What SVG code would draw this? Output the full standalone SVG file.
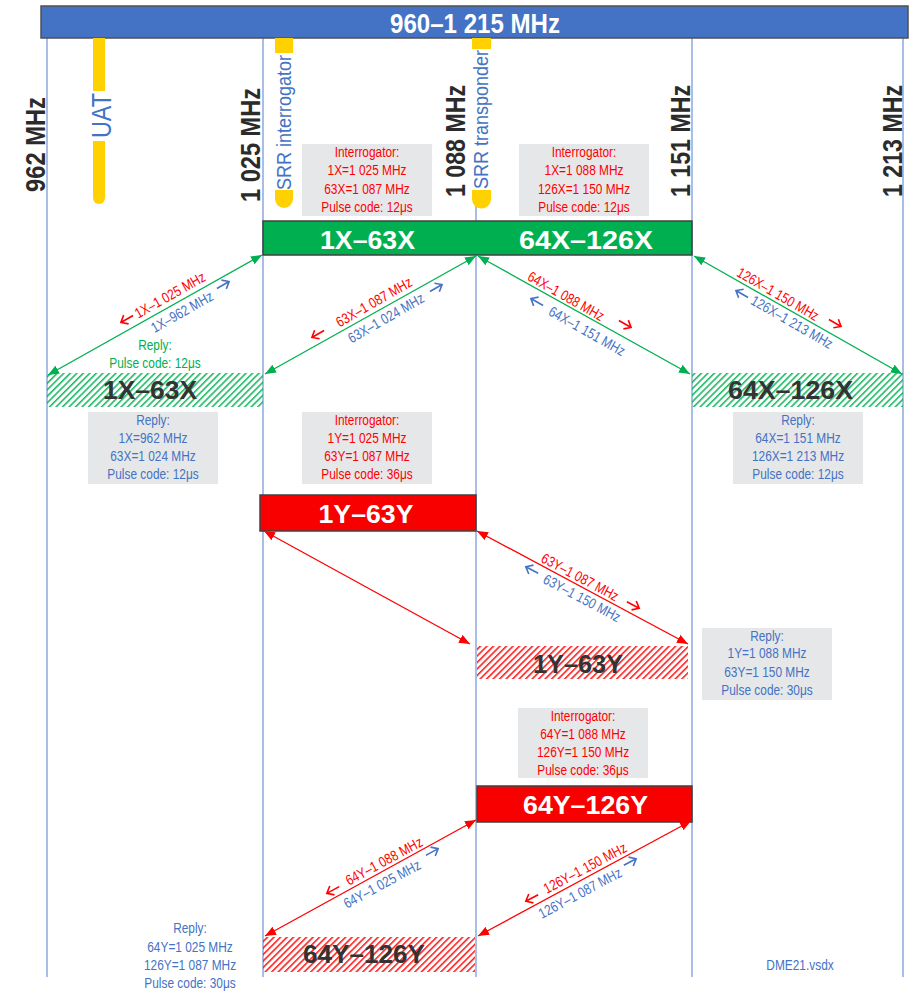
<svg xmlns="http://www.w3.org/2000/svg" width="910" height="994" viewBox="0 0 910 994">
<style>
text{font-family:"Liberation Sans",Arial,sans-serif}
.vl{stroke:#86A3DA;stroke-width:1.4;fill:none}
.gray{fill:#E6E7E8}
.s{font-size:14.5px;text-anchor:middle}
.d{font-size:14.5px;text-anchor:middle}
.red{fill:#FF0000}
.blue{fill:#4472C4}
.grn{fill:#00B050}
.freq{font-size:28px;font-weight:bold;fill:#2B2B2B}
.bar{font-size:25px;font-weight:bold;fill:#FFFFFF;text-anchor:middle}
.hl{font-size:25px;font-weight:bold;fill:#333333;text-anchor:middle}
.yel{fill:#FFD100}
.gl{stroke:#00B050;stroke-width:1.3;fill:none}
.rl{stroke:#FF0000;stroke-width:1.3;fill:none}
.ra{stroke:#FF0000;stroke-width:1.6;fill:none}
.ba{stroke:#4472C4;stroke-width:1.6;fill:none}
</style>
<defs>
<marker id="mg" viewBox="0 0 11 9" refX="11" refY="4.5" markerWidth="11" markerHeight="9" markerUnits="userSpaceOnUse" orient="auto-start-reverse"><path d="M0,0 L11,4.5 L0,9 z" fill="#00B050"/></marker>
<marker id="mr" viewBox="0 0 11 9" refX="11" refY="4.5" markerWidth="11" markerHeight="9" markerUnits="userSpaceOnUse" orient="auto-start-reverse"><path d="M0,0 L11,4.5 L0,9 z" fill="#FF0000"/></marker>
<pattern id="hg" patternUnits="userSpaceOnUse" width="4.6" height="4.6" patternTransform="rotate(45)"><line x1="0.8" y1="0" x2="0.8" y2="4.6" stroke="#00B050" stroke-width="1.4"/></pattern>
<pattern id="hr" patternUnits="userSpaceOnUse" width="4.6" height="4.6" patternTransform="rotate(45)"><line x1="0.8" y1="0" x2="0.8" y2="4.6" stroke="#FF0000" stroke-width="1.4"/></pattern>
</defs>

<g id="grid">
<line class="vl" x1="47" y1="38" x2="47" y2="977"/>
<line class="vl" x1="263" y1="38" x2="263" y2="977"/>
<line class="vl" x1="476" y1="38" x2="476" y2="977"/>
<line class="vl" x1="692" y1="38" x2="692" y2="977"/>
<line class="vl" x1="903" y1="38" x2="903" y2="977"/>
</g>

<g id="band">
<rect x="41" y="6" width="867" height="32" fill="#4472C4" stroke="#505050" stroke-width="1.5"/>
<text x="475" y="33" font-size="28" font-weight="bold" fill="#FFFFFF" text-anchor="middle" textLength="170" lengthAdjust="spacingAndGlyphs">960–1 215 MHz</text>
</g>

<g id="freq-labels" class="freq">
<text transform="translate(45,192) rotate(-90)" textLength="95" lengthAdjust="spacingAndGlyphs">962 MHz</text>
<text transform="translate(260,202) rotate(-90)" textLength="114" lengthAdjust="spacingAndGlyphs">1 025 MHz</text>
<text transform="translate(465,197) rotate(-90)" textLength="112" lengthAdjust="spacingAndGlyphs">1 088 MHz</text>
<text transform="translate(690,197) rotate(-90)" textLength="112" lengthAdjust="spacingAndGlyphs">1 151 MHz</text>
<text transform="translate(902,197) rotate(-90)" textLength="112" lengthAdjust="spacingAndGlyphs">1 213 MHz</text>
</g>

<g id="uat">
<path class="yel" d="M93,38 H105 V198 A6,6 0 0 1 93,198 Z"/>
<rect x="89" y="91" width="23" height="50" fill="#FFFFFF"/>
<text transform="translate(111,138) rotate(-90)" font-size="28" fill="#4472C4" textLength="45" lengthAdjust="spacingAndGlyphs">UAT</text>
</g>

<g id="srr-interrogator">
<path class="yel" d="M275,38 H293 V199 A9,9 0 0 1 275,199 Z"/>
<rect x="273" y="53" width="22" height="137" fill="#FFFFFF"/>
<text transform="translate(291,190) rotate(-90)" font-size="21" fill="#4472C4" textLength="135" lengthAdjust="spacingAndGlyphs">SRR interrogator</text>
</g>

<g id="srr-transponder">
<path class="yel" d="M472,38 H491 V199 A9.5,9.5 0 0 1 472,199 Z"/>
<rect x="470" y="49" width="23" height="141" fill="#FFFFFF"/>
<text transform="translate(488,189) rotate(-90)" font-size="21" fill="#4472C4" textLength="139" lengthAdjust="spacingAndGlyphs">SRR transponder</text>
</g>

<g id="box-int-x1" transform="translate(302,144)">
<rect class="gray" width="130" height="72"/>
<g transform="translate(65,0) scale(0.82,1)" class="s red">
<text y="13">Interrogator:</text><text y="31.3">1X=1 025 MHz</text><text y="49.6">63X=1 087 MHz</text><text y="67.9">Pulse code: 12μs</text>
</g>
</g>

<g id="box-int-x2" transform="translate(519,144)">
<rect class="gray" width="130" height="72"/>
<g transform="translate(65,0) scale(0.82,1)" class="s red">
<text y="13">Interrogator:</text><text y="31.3">1X=1 088 MHz</text><text y="49.6">126X=1 150 MHz</text><text y="67.9">Pulse code: 12μs</text>
</g>
</g>

<g id="bar-x">
<rect x="263" y="221" width="429" height="34" fill="#00B050" stroke="#404040" stroke-width="1.5"/>
<text class="bar" x="367.5" y="249" font-size="24" textLength="95" lengthAdjust="spacingAndGlyphs">1X–63X</text>
<text class="bar" x="586" y="249" font-size="24" textLength="134" lengthAdjust="spacingAndGlyphs">64X–126X</text>
</g>

<g id="reply-green">
<g transform="translate(155,0) scale(0.82,1)" class="s grn">
<text y="350">Reply:</text><text y="368">Pulse code: 12μs</text>
</g>
</g>

<g id="hatch-x1">
<rect x="47" y="373" width="216" height="34" fill="url(#hg)"/>
<text class="hl" x="150" y="399" textLength="94" lengthAdjust="spacingAndGlyphs">1X–63X</text>
</g>

<g id="hatch-x2">
<rect x="692" y="373" width="211" height="34" fill="url(#hg)"/>
<text class="hl" x="790.5" y="399" textLength="125" lengthAdjust="spacingAndGlyphs">64X–126X</text>
</g>

<g id="box-reply-x1" transform="translate(88,412)">
<rect class="gray" width="130" height="72"/>
<g transform="translate(65,0) scale(0.82,1)" class="s blue">
<text y="13">Reply:</text><text y="31">1X=962 MHz</text><text y="49">63X=1 024 MHz</text><text y="67.5">Pulse code: 12μs</text>
</g>
</g>

<g id="box-int-y1" transform="translate(302,412)">
<rect class="gray" width="130" height="72"/>
<g transform="translate(65,0) scale(0.82,1)" class="s red">
<text y="13">Interrogator:</text><text y="31">1Y=1 025 MHz</text><text y="49">63Y=1 087 MHz</text><text y="67.5">Pulse code: 36μs</text>
</g>
</g>

<g id="box-reply-x2" transform="translate(733,412)">
<rect class="gray" width="130" height="72"/>
<g transform="translate(65,0) scale(0.82,1)" class="s blue">
<text y="13">Reply:</text><text y="31">64X=1 151 MHz</text><text y="49">126X=1 213 MHz</text><text y="67.5">Pulse code: 12μs</text>
</g>
</g>

<g id="bar-y1">
<rect x="260" y="495" width="216" height="36" fill="#F80000" stroke="#404040" stroke-width="1.5"/>
<text class="bar" x="366" y="523" textLength="95" lengthAdjust="spacingAndGlyphs">1Y–63Y</text>
</g>

<g id="hatch-y1">
<rect x="477" y="646" width="211" height="33" fill="url(#hr)"/>
<text class="hl" x="578" y="673" textLength="90" lengthAdjust="spacingAndGlyphs">1Y–63Y</text>
</g>

<g id="box-reply-y1" transform="translate(702,628)">
<rect class="gray" width="130" height="72"/>
<g transform="translate(65,0) scale(0.82,1)" class="s blue">
<text y="12.5">Reply:</text><text y="30.5">1Y=1 088 MHz</text><text y="49">63Y=1 150 MHz</text><text y="67.5">Pulse code: 30μs</text>
</g>
</g>

<g id="box-int-y2" transform="translate(518,708)">
<rect class="gray" width="130" height="70"/>
<g transform="translate(65,0) scale(0.82,1)" class="s red">
<text y="13">Interrogator:</text><text y="31">64Y=1 088 MHz</text><text y="49">126Y=1 150 MHz</text><text y="67">Pulse code: 36μs</text>
</g>
</g>

<g id="bar-y2">
<rect x="477" y="786" width="215" height="36" fill="#F80000" stroke="#404040" stroke-width="1.5"/>
<text class="bar" x="585.5" y="814" textLength="125" lengthAdjust="spacingAndGlyphs">64Y–126Y</text>
</g>

<g id="hatch-y2">
<rect x="263" y="937" width="212" height="35" fill="url(#hr)"/>
<text class="hl" x="364" y="963" textLength="122" lengthAdjust="spacingAndGlyphs">64Y–126Y</text>
</g>

<g id="reply-y2">
<g transform="translate(190,0) scale(0.82,1)" class="s blue">
<text y="933">Reply:</text><text y="952">64Y=1 025 MHz</text><text y="970">126Y=1 087 MHz</text><text y="988">Pulse code: 30μs</text>
</g>
</g>

<g id="file-name">
<text class="s blue" transform="translate(800,970) scale(0.82,1)">DME21.vsdx</text>
</g>

<g id="connectors">
<line class="gl" x1="48" y1="375" x2="262" y2="255" marker-start="url(#mg)" marker-end="url(#mg)"/>
<line class="gl" x1="265" y1="374" x2="476" y2="256" marker-start="url(#mg)" marker-end="url(#mg)"/>
<line class="gl" x1="478" y1="256" x2="690" y2="374" marker-start="url(#mg)" marker-end="url(#mg)"/>
<line class="gl" x1="694" y1="256" x2="902" y2="374" marker-start="url(#mg)" marker-end="url(#mg)"/>
<line class="rl" x1="264" y1="531" x2="470" y2="644" marker-start="url(#mr)" marker-end="url(#mr)"/>
<line class="rl" x1="477" y1="531" x2="688" y2="644" marker-start="url(#mr)" marker-end="url(#mr)"/>
<line class="rl" x1="265" y1="936" x2="476" y2="820" marker-start="url(#mr)" marker-end="url(#mr)"/>
<line class="rl" x1="478" y1="936" x2="691" y2="821" marker-start="url(#mr)" marker-end="url(#mr)"/>

<text class="d red" transform="translate(170,295) rotate(-29.5) scale(0.82,1)" y="5">1X–1 025 MHz</text>
<text class="d blue" transform="translate(182,312) rotate(-29.5) scale(0.82,1)" y="5">1X–962 MHz</text>
<path class="ra" transform="translate(127,319) rotate(-29.5)" d="M7,0 H-7 M-1,-5 L-7,0 L-1,5"/>
<path class="ba" transform="translate(223,285) rotate(-29.5)" d="M-7,0 H7 M1,-5 L7,0 L1,5"/>

<text class="d red" transform="translate(374,302) rotate(-29.8) scale(0.82,1)" y="5">63X–1 087 MHz</text>
<text class="d blue" transform="translate(386,318) rotate(-29.8) scale(0.82,1)" y="5">63X–1 024 MHz</text>
<path class="ra" transform="translate(318,334) rotate(-29.8)" d="M7,0 H-7 M-1,-5 L-7,0 L-1,5"/>
<path class="ba" transform="translate(436,288) rotate(-29.8)" d="M-7,0 H7 M1,-5 L7,0 L1,5"/>

<text class="d red" transform="translate(566,296) rotate(29.5) scale(0.82,1)" y="5">64X–1 088 MHz</text>
<text class="d blue" transform="translate(587,331) rotate(29.5) scale(0.82,1)" y="5">64X–1 151 MHz</text>
<path class="ra" transform="translate(625,324) rotate(29.5)" d="M-7,0 H7 M1,-5 L7,0 L1,5"/>
<path class="ba" transform="translate(537,302) rotate(29.5)" d="M7,0 H-7 M-1,-5 L-7,0 L-1,5"/>

<text class="d red" transform="translate(778,294) rotate(30) scale(0.82,1)" y="5">126X–1 150 MHz</text>
<text class="d blue" transform="translate(792,322) rotate(30) scale(0.82,1)" y="5">126X–1 213 MHz</text>
<path class="ra" transform="translate(835,323) rotate(30)" d="M-7,0 H7 M1,-5 L7,0 L1,5"/>
<path class="ba" transform="translate(742,294) rotate(30)" d="M7,0 H-7 M-1,-5 L-7,0 L-1,5"/>

<text class="d red" transform="translate(580,577) rotate(28) scale(0.82,1)" y="5">63Y–1 087 MHz</text>
<text class="d blue" transform="translate(582,598) rotate(28) scale(0.82,1)" y="5">63Y–1 150 MHz</text>
<path class="ra" transform="translate(633,605) rotate(28)" d="M-7,0 H7 M1,-5 L7,0 L1,5"/>
<path class="ba" transform="translate(532,570) rotate(28)" d="M7,0 H-7 M-1,-5 L-7,0 L-1,5"/>

<text class="d red" transform="translate(384,861) rotate(-28.4) scale(0.82,1)" y="5">64Y–1 088 MHz</text>
<text class="d blue" transform="translate(382,884) rotate(-28.4) scale(0.82,1)" y="5">64Y–1 025 MHz</text>
<path class="ra" transform="translate(333,890) rotate(-28.4)" d="M7,0 H-7 M-1,-5 L-7,0 L-1,5"/>
<path class="ba" transform="translate(432,852) rotate(-28.4)" d="M-7,0 H7 M1,-5 L7,0 L1,5"/>

<text class="d red" transform="translate(585,868) rotate(-28) scale(0.82,1)" y="5">126Y–1 150 MHz</text>
<text class="d blue" transform="translate(580,893) rotate(-28) scale(0.82,1)" y="5">126Y–1 087 MHz</text>
<path class="ra" transform="translate(532,898) rotate(-28)" d="M7,0 H-7 M-1,-5 L-7,0 L-1,5"/>
<path class="ba" transform="translate(630,862) rotate(-28)" d="M-7,0 H7 M1,-5 L7,0 L1,5"/>
</g>
</svg>
